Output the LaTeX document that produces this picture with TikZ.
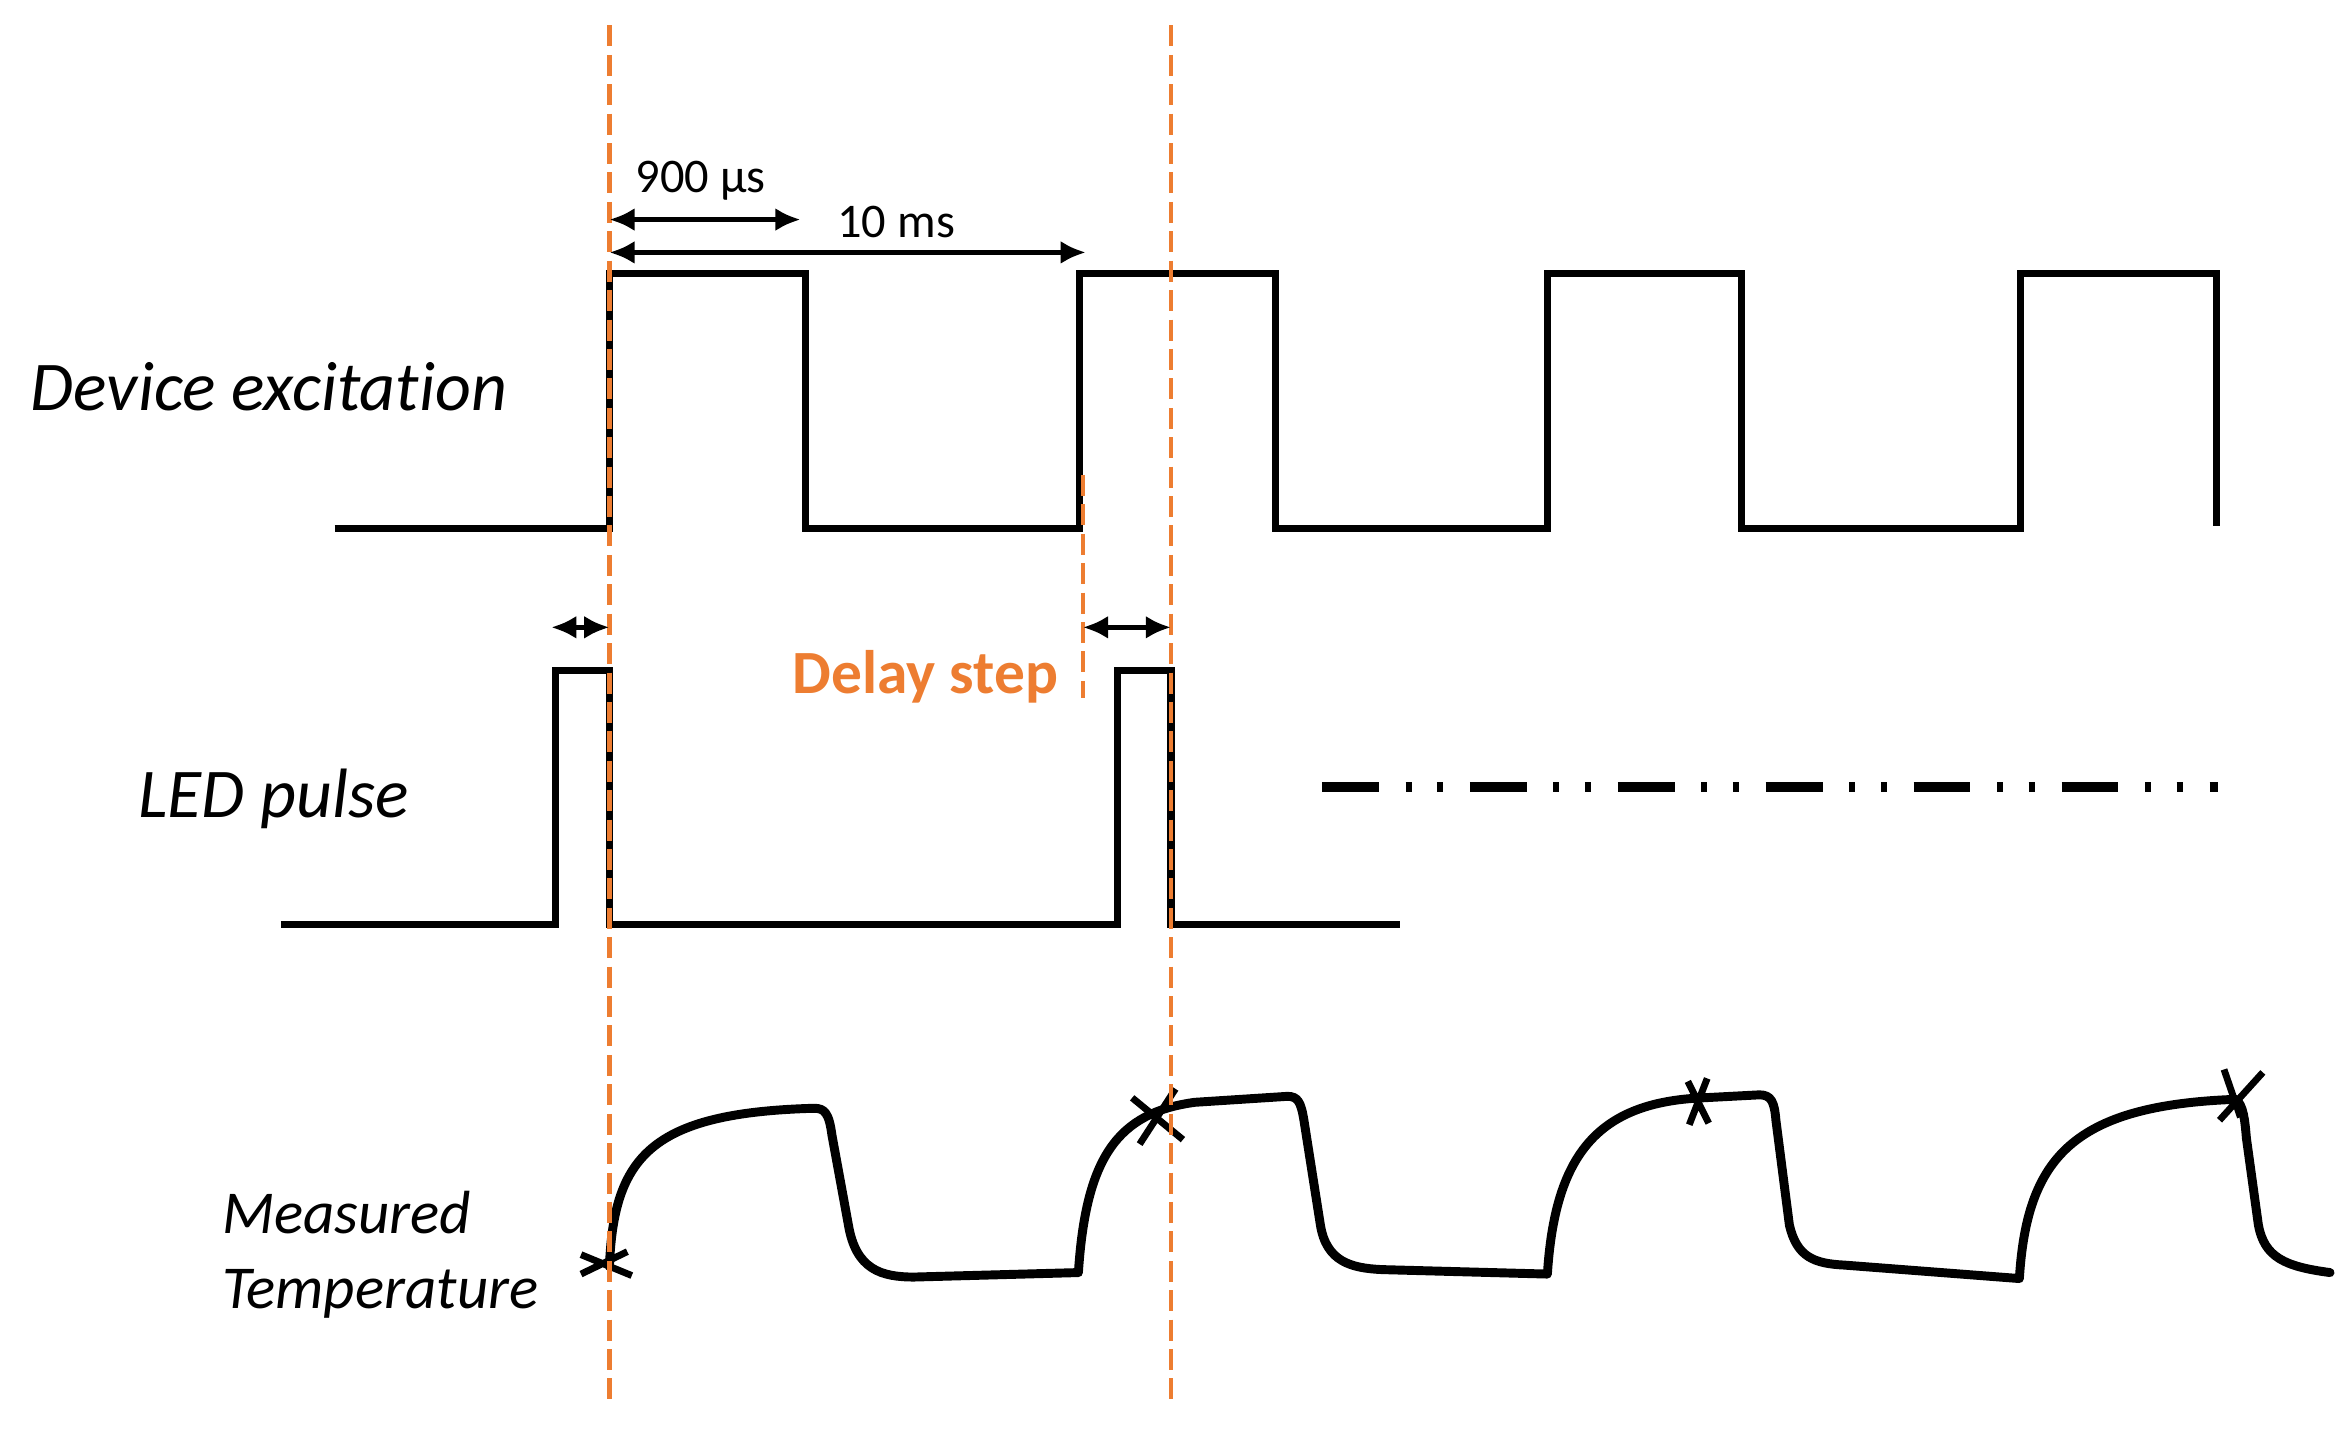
\documentclass[tikz,border=0pt]{standalone}
\usepackage{fontspec}
\setmainfont[Ligatures=NoCommon]{Carlito}
\usepackage{tikz}
\usetikzlibrary{arrows.meta, positioning}
\definecolor{delayorange}{HTML}{ED7D31}

\begin{document}
\begin{tikzpicture}[>={Latex[length=4.8pt,width=4.4pt]}, x=0.01cm, y=-0.01cm,
  signal/.style={line width=1.35pt},
  tempcurve/.style={line width=1.7pt, line cap=round, line join=round},
  marker/.style={delayorange, line width=0.8pt, dash pattern=on 4pt off 1.6pt},
  span/.style={<->, line width=1pt},
  siglabel/.style={anchor=base west, inner sep=0pt, font=\fontsize{13.3}{16}\selectfont\itshape},
  smalllabel/.style={anchor=base west, inner sep=0pt, font=\fontsize{11.6}{14}\selectfont\itshape},
  timelabel/.style={anchor=base west, inner sep=0pt, font=\fontsize{9.2}{11}\selectfont}]
  \useasboundingbox (0,0) rectangle (1568,960);
  % device excitation
  \draw [signal] (224,354) -- (408,354) -- (408,183) -- (539,183) -- (539,354) -- (723,354) -- (723,183) -- (854,183) -- (854,354) -- (1036,354) -- (1036,183) -- (1166,183) -- (1166,354) -- (1353,354) -- (1353,183) -- (1484,183) -- (1484,352);
  % LED pulse
  \draw [signal] (188,619) -- (372,619) -- (372,449) -- (408,449) -- (408,619) -- (748,619) -- (748,449) -- (784,449) -- (784,619) -- (937,619);
  \draw [line width=1.9pt, dash pattern=on 0.38cm off 0.18cm on 0.04cm off 0.17cm on 0.04cm off 0.18cm] (885,527) -- (1485,527);
  % measured temperature
  \draw [tempcurve] (408,848) .. controls (411,775) and (435,745) .. (545,742)
    .. controls (552,742) and (555,745) .. (557,760) -- (568,820)
    .. controls (573,850) and (590,855) .. (612,855) -- (722,852)
    .. controls (727,775) and (748,745) .. (800,738) -- (862,734)
    .. controls (869,734) and (871,738) .. (873,750) -- (884,820)
    .. controls (888,845) and (905,849) .. (925,850) -- (1036,853)
    .. controls (1041,775) and (1068,738) .. (1140,735) -- (1178,733)
    .. controls (1186,733) and (1188,738) .. (1189,750) -- (1198,820)
    .. controls (1203,842) and (1215,846) .. (1235,847) -- (1352,856)
    .. controls (1357,775) and (1388,740) .. (1497,736)
    .. controls (1502,740) and (1503,750) .. (1504,762) -- (1512,820)
    .. controls (1516,842) and (1530,848) .. (1560,852);
  % sample marks
  \draw [line width=1.3pt] (389,840) -- (423,854) (389,853) -- (420,838);
  \draw [line width=1.3pt] (758,735) -- (792,763) (763,766) -- (787,729);
  \draw [line width=1.3pt] (1130,724) -- (1144,752) (1131,753) -- (1143,722);
  \draw [line width=1.3pt] (1515,718) -- (1486,750) (1489,716) -- (1500,748);
  % delay markers
  \coordinate (firsttop) at (408,17);
  \coordinate (firstbottom) at (408,942);
  \coordinate (secondtop) at (784,17);
  \coordinate (secondbottom) at (784,942);
  \coordinate (steptop) at (725,318);
  \coordinate (stepbottom) at (725,467);
  \draw [marker] (firsttop) -- (firstbottom);
  \draw [marker] (secondtop) -- (secondbottom);
  \draw [marker] (steptop) -- (stepbottom);
  % spans
  \coordinate (pulsestart) at (408,147);
  \coordinate (pulseend) at (536,147);
  \coordinate (periodstart) at (408,169);
  \coordinate (periodend) at (727,169);
  \coordinate (ledonA) at (369,420);
  \coordinate (ledoffA) at (408,420);
  \coordinate (ledonB) at (725,420);
  \coordinate (ledoffB) at (784,420);
  \draw [span] (pulsestart) -- (pulseend);
  \draw [span] (periodstart) -- (periodend);
  \draw [span] (ledonA) -- (ledoffA);
  \draw [span] (ledonB) -- (ledoffB);
  % labels
  \node (devlabel) at (20,275) [siglabel] {Device excitation};
  \node (ledlabel) at (92,547) [siglabel] {LED pulse};
  \node (measlabel) at (148,826) [smalllabel] {Measured};
  \node (templabel) at (148,876) [smalllabel] {Temperature};
  \node (pulselabel) at (425,129) [timelabel] {900 µs};
  \node (periodlabel) at (560,159) [timelabel] {10 ms};
  \node (delaylabel) at (530,464) [anchor=base west, inner sep=0pt, text=delayorange, font=\fontsize{11.7}{14}\selectfont\bfseries] {Delay step};
\end{tikzpicture}
\end{document}
